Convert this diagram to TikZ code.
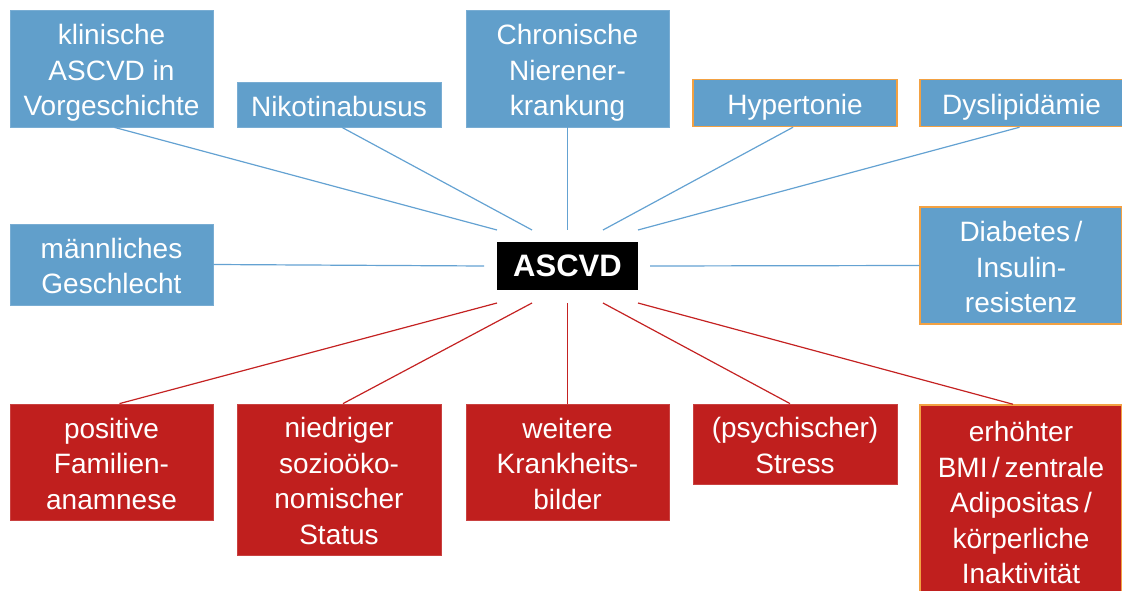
\documentclass[tikz,border=0pt]{standalone}
\usepackage{fontspec}
\setmainfont{Liberation Sans}
\definecolor{bbox}{RGB}{97,159,203}
\definecolor{bline}{RGB}{100,162,210}
\definecolor{rbox}{RGB}{192,31,30}
\definecolor{rline}{RGB}{196,34,34}
\definecolor{obord}{RGB}{243,161,66}
\newcommand{\boxtext}[1]{\raisebox{-4.5pt}[\height][\depth]{\begin{tabular}{@{}c@{}}#1\end{tabular}}}
\begin{document}
\begin{tikzpicture}[x=1pt,y=-1pt,
  base/.style={inner sep=0pt,align=center,text=white,font=\fontsize{28}{35.5}\selectfont},
  bluebox/.style={base,fill=bbox,draw=bbox!85!white,line width=0.8pt},
  bluebor/.style={base,fill=bbox,draw=obord,line width=1.5pt},
  redbox/.style={base,fill=rbox,draw=rbox!85!white,line width=0.8pt},
  redbor/.style={base,fill=rbox,draw=obord,line width=1.5pt},
  bl/.style={draw=bline,line width=1.2pt},
  rl/.style={draw=rline,line width=1.2pt}]
\useasboundingbox (0,0) rectangle (1122,591);
\clip (0,0) rectangle (1122,591);
% boxes
\node[bluebox,minimum width=203pt,minimum height=117pt] (k1) at (111.5,68.5) {\boxtext{klinische\\ASCVD in\\Vorgeschichte}};
\node[bluebox,minimum width=204pt,minimum height=45pt] (k2) at (339,104.5) {\boxtext{Nikotinabusus}};
\node[bluebox,minimum width=203pt,minimum height=117pt] (k3) at (567.5,68.5) {\boxtext{Chronische\\Nierener-\\krankung}};
\node[bluebor,minimum width=204pt,minimum height=47pt] (k4) at (795,103) {\boxtext{Hypertonie}};
\node[bluebor,minimum width=203pt,minimum height=47pt] (k5) at (1021.5,103) {\boxtext{Dyslipidämie}};
\node[bluebox,minimum width=203pt,minimum height=81pt] (k6) at (111.5,264.5) {\boxtext{männliches\\Geschlecht}};
\node[base,fill=black,minimum width=141pt,minimum height=48pt,font=\fontsize{31}{36}\selectfont\bfseries] (asc) at (567.5,266) {ASCVD};
\node[bluebor,minimum width=202pt,minimum height=117pt] (k8) at (1021,265.5) {\boxtext{Diabetes\,/\\Insulin-\\resistenz}};
\node[redbox,minimum width=203pt,minimum height=116pt] (k9) at (111.5,462) {\boxtext{positive\\Familien-\\anamnese}};
\node[redbox,minimum width=204pt,minimum height=151pt] (k10) at (339,479.5) {\boxtext{niedriger\\sozioöko-\\nomischer\\Status}};
\node[redbox,minimum width=203pt,minimum height=116pt] (k11) at (567.5,462) {\boxtext{weitere\\Krankheits-\\bilder}};
\node[redbox,minimum width=204pt,minimum height=80pt] (k12) at (795,444) {\boxtext{(psychischer)\\Stress}};
\node[redbor,minimum width=202pt,minimum height=192pt] (k13) at (1021,501) {\boxtext{erhöhter\\BMI\,/\,zentrale\\Adipositas\,/\\körperliche\\Inaktivität}};
% connector end points around ASCVD
\coordinate (t1) at (497,230);
\coordinate (t2) at (532,230);
\coordinate (t3) at (567.5,230);
\coordinate (t4) at (603,230);
\coordinate (t5) at (638,230);
\coordinate (ml) at (484,266);
\coordinate (mr) at (650,266);
\coordinate (b1) at (497,303);
\coordinate (b2) at (532,303);
\coordinate (b3) at (567.5,303);
\coordinate (b4) at (603,303);
\coordinate (b5) at (638,303);
% blue connectors
\draw[bl] ([xshift=3pt]k1.south) -- (t1);
\draw[bl] ([xshift=3pt]k2.south) -- (t2);
\draw[bl] (k3.south) -- (t3);
\draw[bl] ([xshift=-2pt]k4.south) -- (t4);
\draw[bl] ([xshift=-2pt]k5.south) -- (t5);
\draw[bl] (k6.east) -- (ml);
\draw[bl] (k8.west) -- (mr);
% red connectors
\draw[rl] ([xshift=8pt]k9.north) -- (b1);
\draw[rl] ([xshift=4pt]k10.north) -- (b2);
\draw[rl] (k11.north) -- (b3);
\draw[rl] ([xshift=-5pt]k12.north) -- (b4);
\draw[rl] ([xshift=-8pt]k13.north) -- (b5);
\end{tikzpicture}
\end{document}
